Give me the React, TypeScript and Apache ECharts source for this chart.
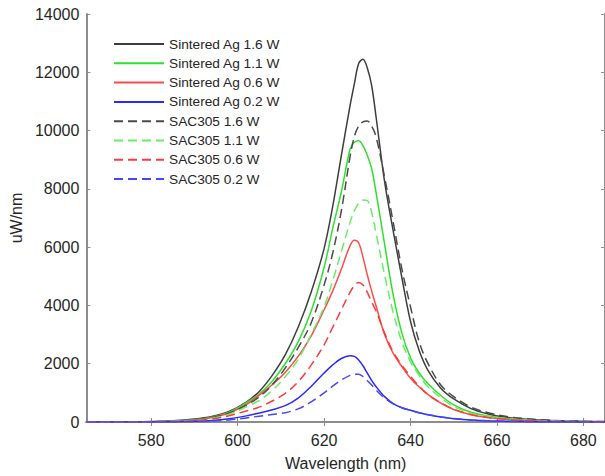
import React, { useEffect, useRef } from "react";
import * as echarts from "echarts";

const wavelengths = [565, 570, 575, 580, 585, 590, 594, 598, 602, 605, 608, 611, 614, 617, 620, 622, 624, 626, 627, 628, 629, 630, 631, 632, 634, 636, 638, 640, 642, 644, 647, 650, 654, 658, 662, 666, 670, 675, 680, 685];

const sinteredAg16 = [0, 2, 5, 15, 40, 100, 190, 360, 680, 1050, 1600, 2300, 3250, 4450, 5950, 7400, 9150, 10850, 11600, 12300, 12450, 12150, 11550, 10500, 8250, 6550, 4950, 3450, 2450, 1780, 1160, 790, 460, 275, 165, 105, 68, 38, 22, 12];
const sinteredAg11 = [0, 1, 3, 10, 30, 80, 160, 340, 660, 960, 1400, 2000, 2750, 3800, 5300, 6650, 7900, 9350, 9600, 9650, 9480, 9150, 8700, 7900, 6100, 4350, 3050, 2200, 1680, 1320, 910, 590, 335, 205, 125, 78, 52, 29, 16, 8];
const sinteredAg06 = [0, 1, 2, 6, 20, 60, 150, 310, 600, 920, 1280, 1700, 2250, 2950, 3850, 4500, 5250, 6050, 6240, 6150, 5650, 5050, 4500, 4000, 3000, 2350, 1900, 1500, 1200, 950, 650, 430, 250, 150, 90, 55, 35, 20, 10, 5];
const sinteredAg02 = [0, 0, 1, 3, 8, 22, 50, 110, 210, 310, 420, 560, 820, 1220, 1680, 1960, 2180, 2270, 2250, 2130, 1930, 1680, 1430, 1220, 870, 630, 490, 400, 320, 250, 170, 115, 65, 40, 25, 15, 10, 5, 3, 2];
const sac305_16 = [0, 1, 3, 10, 30, 75, 150, 300, 580, 860, 1280, 1850, 2550, 3400, 4700, 5800, 7250, 9100, 9800, 10150, 10300, 10330, 10150, 9800, 8400, 6850, 5250, 3950, 2750, 2020, 1270, 870, 510, 315, 195, 122, 80, 46, 26, 14];
const sac305_11 = [0, 1, 2, 8, 25, 60, 125, 265, 520, 740, 1080, 1550, 2150, 3000, 3950, 4850, 5850, 6850, 7250, 7500, 7620, 7600, 7200, 6500, 5050, 3750, 2750, 2060, 1600, 1210, 830, 530, 305, 188, 117, 72, 46, 27, 14, 8];
const sac305_06 = [0, 1, 2, 5, 15, 45, 105, 215, 380, 510, 720, 980, 1380, 1950, 2650, 3250, 3850, 4450, 4680, 4790, 4700, 4450, 4120, 3820, 3050, 2400, 1950, 1560, 1230, 940, 660, 440, 260, 155, 93, 57, 36, 21, 11, 6];
const sac305_02 = [0, 0, 1, 2, 6, 15, 32, 70, 140, 200, 260, 320, 450, 690, 1000, 1230, 1440, 1600, 1640, 1640, 1560, 1420, 1270, 1100, 820, 620, 490, 400, 320, 255, 175, 120, 68, 42, 26, 16, 10, 6, 3, 2];

const seriesNames = [
  "Sintered Ag 1.6 W",
  "Sintered Ag 1.1 W",
  "Sintered Ag 0.6 W",
  "Sintered Ag 0.2 W",
  "SAC305 1.6 W",
  "SAC305 1.1 W",
  "SAC305 0.6 W",
  "SAC305 0.2 W",
];
const seriesValues = [sinteredAg16, sinteredAg11, sinteredAg06, sinteredAg02, sac305_16, sac305_11, sac305_06, sac305_02];

const xTicks = [580, 600, 620, 640, 660, 680];
const xMin = 565;
const xMax = 685;
const yMin = 0;
const yMax = 14000;
const yStep = 2000;

const colors = ["#3d3d3d", "#2ee02e", "#ff4a4a", "#2a2aff", "#4a4a4a", "#66ee66", "#ff3a3a", "#4646ff"];
const dashed = [false, false, false, false, true, true, true, true];

const FONT = "'Liberation Sans', Arial, Helvetica, sans-serif";
const AXIS_GRAY = "#8c8c8c";
const TEXT = "#262626";

export default function App() {
  const ref = useRef<HTMLDivElement>(null);
  useEffect(() => {
    if (!ref.current) return;
    const chart = echarts.init(ref.current, null, { renderer: "svg" });
    const series = seriesNames.map((name, i) => ({
      name,
      type: "line",
      data: wavelengths.map((w, j) => [w, seriesValues[i][j]]),
      symbol: "none",
      showSymbol: false,
      smooth: 0.35,
      lineStyle: { color: colors[i], width: 1.5, type: dashed[i] ? [9, 5] : "solid" },
      itemStyle: { color: colors[i] },
      xAxisIndex: 0,
      yAxisIndex: 0,
    }));
    const baseTick = { show: true, inside: true, length: 4, lineStyle: { color: AXIS_GRAY, width: 1 } };
    chart.setOption({
      animation: false,
      backgroundColor: "#ffffff",
      textStyle: { fontFamily: FONT },
      grid: { left: 86, top: 14, right: -2, bottom: 51, containLabel: false },
      legend: {
        orient: "vertical",
        left: 113,
        top: 37,
        padding: 0,
        itemWidth: 50,
        itemHeight: 14,
        itemGap: 5.3,
        itemStyle: { opacity: 0 },
        textStyle: { fontFamily: FONT, fontSize: 13.7, color: TEXT },
        data: seriesNames,
      },
      xAxis: [
        {
          type: "value",
          min: xMin,
          max: xMax,
          position: "bottom",
          name: "Wavelength (nm)",
          nameLocation: "middle",
          nameGap: 33,
          nameTextStyle: { fontFamily: FONT, fontSize: 16, color: TEXT },
          axisLine: { show: true, lineStyle: { color: AXIS_GRAY, width: 2 } },
          axisTick: { ...baseTick, customValues: xTicks },
          axisLabel: { customValues: xTicks, fontFamily: FONT, fontSize: 16, color: TEXT, margin: 10 },
          splitLine: { show: false },
        },
        {
          type: "value",
          min: xMin,
          max: xMax,
          position: "top",
          axisLine: { show: true, lineStyle: { color: AXIS_GRAY, width: 2 } },
          axisTick: { ...baseTick, customValues: xTicks },
          axisLabel: { show: false },
          splitLine: { show: false },
        },
      ],
      yAxis: [
        {
          type: "value",
          min: yMin,
          max: yMax,
          interval: yStep,
          position: "left",
          name: "uW/nm",
          nameLocation: "middle",
          nameGap: 57,
          nameTextStyle: { fontFamily: FONT, fontSize: 16, color: TEXT },
          axisLine: { show: true, lineStyle: { color: AXIS_GRAY, width: 2 } },
          axisTick: baseTick,
          axisLabel: { fontFamily: FONT, fontSize: 16, color: TEXT, margin: 7, formatter: (v: number) => String(v) },
          splitLine: { show: false },
        },
        {
          type: "value",
          min: yMin,
          max: yMax,
          interval: yStep,
          position: "right",
          axisLine: { show: true, lineStyle: { color: AXIS_GRAY, width: 2 } },
          axisTick: baseTick,
          axisLabel: { show: false },
          splitLine: { show: false },
        },
      ],
      series,
    });
    return () => chart.dispose();
  }, []);
  return <div ref={ref} style={{ position: "fixed", left: 0, top: 0, width: 605, height: 476 }} />;
}
